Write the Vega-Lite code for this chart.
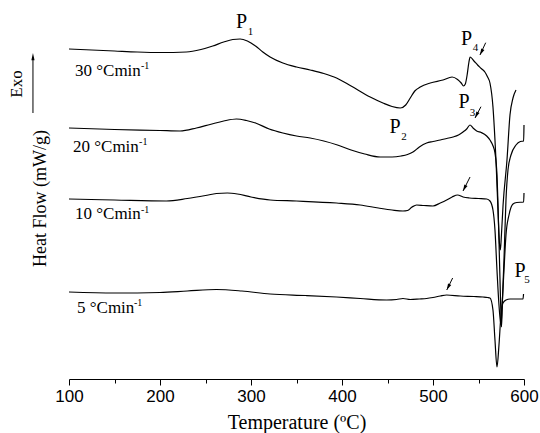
{
  "$schema": "https://vega.github.io/schema/vega-lite/v6.json",
  "width": 455,
  "height": 359,
  "autosize": {"type": "none"},
  "padding": {"left": 69, "top": 20, "right": 16, "bottom": 54},
  "background": "white",
  "config": {"view": {"stroke": null}},
  "datasets": {
    "curves": [
      {"rate": "30", "T": 100, "hf": 330}, {"rate": "30", "T": 125, "hf": 329}, {"rate": "30", "T": 150, "hf": 328}, {"rate": "30", "T": 175, "hf": 327}, {"rate": "30", "T": 200, "hf": 326.5}, {"rate": "30", "T": 229, "hf": 327}, {"rate": "30", "T": 245, "hf": 329.5}, {"rate": "30", "T": 258, "hf": 333}, {"rate": "30", "T": 270, "hf": 337}, {"rate": "30", "T": 280, "hf": 339.5}, {"rate": "30", "T": 288, "hf": 340}, {"rate": "30", "T": 296, "hf": 338}, {"rate": "30", "T": 305, "hf": 333}, {"rate": "30", "T": 313, "hf": 327}, {"rate": "30", "T": 321, "hf": 322}, {"rate": "30", "T": 335, "hf": 316}, {"rate": "30", "T": 350, "hf": 312}, {"rate": "30", "T": 365, "hf": 309}, {"rate": "30", "T": 380, "hf": 305.5}, {"rate": "30", "T": 394, "hf": 301}, {"rate": "30", "T": 410, "hf": 293}, {"rate": "30", "T": 431, "hf": 282}, {"rate": "30", "T": 445, "hf": 276}, {"rate": "30", "T": 455, "hf": 272.5}, {"rate": "30", "T": 464, "hf": 271}, {"rate": "30", "T": 470, "hf": 274}, {"rate": "30", "T": 475, "hf": 281}, {"rate": "30", "T": 480, "hf": 288}, {"rate": "30", "T": 486, "hf": 292}, {"rate": "30", "T": 497, "hf": 296}, {"rate": "30", "T": 511, "hf": 299}, {"rate": "30", "T": 521, "hf": 302}, {"rate": "30", "T": 527, "hf": 299.5}, {"rate": "30", "T": 531, "hf": 296}, {"rate": "30", "T": 533.5, "hf": 293}, {"rate": "30", "T": 535.5, "hf": 295}, {"rate": "30", "T": 537.5, "hf": 304}, {"rate": "30", "T": 539.5, "hf": 317}, {"rate": "30", "T": 540.8, "hf": 322}, {"rate": "30", "T": 545, "hf": 318}, {"rate": "30", "T": 549, "hf": 314}, {"rate": "30", "T": 553, "hf": 310.5}, {"rate": "30", "T": 557, "hf": 307}, {"rate": "30", "T": 560, "hf": 302}, {"rate": "30", "T": 562.6, "hf": 296}, {"rate": "30", "T": 565.9, "hf": 272}, {"rate": "30", "T": 568.1, "hf": 239}, {"rate": "30", "T": 569.2, "hf": 219}, {"rate": "30", "T": 571.4, "hf": 169}, {"rate": "30", "T": 573, "hf": 136}, {"rate": "30", "T": 574, "hf": 129}, {"rate": "30", "T": 575.2, "hf": 144}, {"rate": "30", "T": 577, "hf": 174}, {"rate": "30", "T": 581.3, "hf": 219}, {"rate": "30", "T": 584.6, "hf": 264}, {"rate": "30", "T": 587.9, "hf": 281}, {"rate": "30", "T": 591.2, "hf": 289},
      {"rate": "20", "T": 100, "hf": 251}, {"rate": "20", "T": 150, "hf": 249.5}, {"rate": "20", "T": 200, "hf": 248.5}, {"rate": "20", "T": 222, "hf": 248}, {"rate": "20", "T": 240, "hf": 251}, {"rate": "20", "T": 255, "hf": 254.5}, {"rate": "20", "T": 270, "hf": 258}, {"rate": "20", "T": 284, "hf": 260}, {"rate": "20", "T": 295, "hf": 258.5}, {"rate": "20", "T": 305, "hf": 256}, {"rate": "20", "T": 320, "hf": 250}, {"rate": "20", "T": 335, "hf": 246}, {"rate": "20", "T": 350, "hf": 243}, {"rate": "20", "T": 365, "hf": 241}, {"rate": "20", "T": 380, "hf": 238}, {"rate": "20", "T": 395, "hf": 234}, {"rate": "20", "T": 410, "hf": 229}, {"rate": "20", "T": 425, "hf": 225}, {"rate": "20", "T": 442, "hf": 222}, {"rate": "20", "T": 455, "hf": 222}, {"rate": "20", "T": 465, "hf": 223}, {"rate": "20", "T": 472, "hf": 224.5}, {"rate": "20", "T": 478, "hf": 227}, {"rate": "20", "T": 485, "hf": 232}, {"rate": "20", "T": 493, "hf": 236}, {"rate": "20", "T": 500, "hf": 237.5}, {"rate": "20", "T": 508, "hf": 239}, {"rate": "20", "T": 515, "hf": 240.5}, {"rate": "20", "T": 522, "hf": 242}, {"rate": "20", "T": 528, "hf": 244}, {"rate": "20", "T": 533, "hf": 247}, {"rate": "20", "T": 537, "hf": 250}, {"rate": "20", "T": 540.6, "hf": 254}, {"rate": "20", "T": 544, "hf": 251}, {"rate": "20", "T": 548, "hf": 248}, {"rate": "20", "T": 553, "hf": 246.5}, {"rate": "20", "T": 559, "hf": 243}, {"rate": "20", "T": 562.6, "hf": 239}, {"rate": "20", "T": 566, "hf": 233}, {"rate": "20", "T": 568.1, "hf": 226}, {"rate": "20", "T": 570.3, "hf": 204}, {"rate": "20", "T": 572.5, "hf": 139}, {"rate": "20", "T": 574.2, "hf": 79}, {"rate": "20", "T": 575.3, "hf": 52}, {"rate": "20", "T": 576.3, "hf": 79}, {"rate": "20", "T": 578, "hf": 119}, {"rate": "20", "T": 580.2, "hf": 179}, {"rate": "20", "T": 582.4, "hf": 209}, {"rate": "20", "T": 585.7, "hf": 224}, {"rate": "20", "T": 591.2, "hf": 234}, {"rate": "20", "T": 596, "hf": 237.5}, {"rate": "20", "T": 599.6, "hf": 238}, {"rate": "20", "T": 600, "hf": 254},
      {"rate": "10", "T": 100, "hf": 180}, {"rate": "10", "T": 150, "hf": 179}, {"rate": "10", "T": 207, "hf": 178}, {"rate": "10", "T": 230, "hf": 180.5}, {"rate": "10", "T": 250, "hf": 183.5}, {"rate": "10", "T": 262, "hf": 185.5}, {"rate": "10", "T": 274, "hf": 186}, {"rate": "10", "T": 285, "hf": 185}, {"rate": "10", "T": 300, "hf": 182}, {"rate": "10", "T": 321, "hf": 179}, {"rate": "10", "T": 350, "hf": 178}, {"rate": "10", "T": 394, "hf": 176}, {"rate": "10", "T": 420, "hf": 174}, {"rate": "10", "T": 440, "hf": 171}, {"rate": "10", "T": 455, "hf": 169}, {"rate": "10", "T": 467, "hf": 168}, {"rate": "10", "T": 472, "hf": 168.5}, {"rate": "10", "T": 477, "hf": 172}, {"rate": "10", "T": 482, "hf": 174}, {"rate": "10", "T": 490, "hf": 173.5}, {"rate": "10", "T": 500, "hf": 173}, {"rate": "10", "T": 508, "hf": 176}, {"rate": "10", "T": 515, "hf": 179}, {"rate": "10", "T": 521, "hf": 182}, {"rate": "10", "T": 527, "hf": 184}, {"rate": "10", "T": 533, "hf": 182}, {"rate": "10", "T": 540, "hf": 181}, {"rate": "10", "T": 550, "hf": 180.5}, {"rate": "10", "T": 559, "hf": 180}, {"rate": "10", "T": 562.6, "hf": 178}, {"rate": "10", "T": 565.9, "hf": 169}, {"rate": "10", "T": 568.1, "hf": 149}, {"rate": "10", "T": 570.3, "hf": 109}, {"rate": "10", "T": 572.5, "hf": 74}, {"rate": "10", "T": 574.7, "hf": 54}, {"rate": "10", "T": 576, "hf": 74}, {"rate": "10", "T": 578, "hf": 109}, {"rate": "10", "T": 580.2, "hf": 144}, {"rate": "10", "T": 583.5, "hf": 164}, {"rate": "10", "T": 587.9, "hf": 175}, {"rate": "10", "T": 592, "hf": 176.5}, {"rate": "10", "T": 599.6, "hf": 177}, {"rate": "10", "T": 600, "hf": 186},
      {"rate": "5", "T": 100, "hf": 87}, {"rate": "5", "T": 150, "hf": 86}, {"rate": "5", "T": 200, "hf": 86.5}, {"rate": "5", "T": 230, "hf": 88}, {"rate": "5", "T": 262, "hf": 89.5}, {"rate": "5", "T": 290, "hf": 88}, {"rate": "5", "T": 321, "hf": 85}, {"rate": "5", "T": 360, "hf": 83.5}, {"rate": "5", "T": 394, "hf": 82}, {"rate": "5", "T": 420, "hf": 80.5}, {"rate": "5", "T": 449, "hf": 79}, {"rate": "5", "T": 460, "hf": 79.5}, {"rate": "5", "T": 467, "hf": 80.5}, {"rate": "5", "T": 475, "hf": 79.5}, {"rate": "5", "T": 485, "hf": 80}, {"rate": "5", "T": 493, "hf": 80.5}, {"rate": "5", "T": 500, "hf": 81.5}, {"rate": "5", "T": 508, "hf": 83}, {"rate": "5", "T": 515, "hf": 84}, {"rate": "5", "T": 530, "hf": 83}, {"rate": "5", "T": 545, "hf": 82.5}, {"rate": "5", "T": 555, "hf": 82}, {"rate": "5", "T": 560, "hf": 81.5}, {"rate": "5", "T": 562.6, "hf": 81}, {"rate": "5", "T": 565.9, "hf": 69}, {"rate": "5", "T": 568.1, "hf": 39}, {"rate": "5", "T": 570.3, "hf": 12}, {"rate": "5", "T": 572.5, "hf": 34}, {"rate": "5", "T": 574.7, "hf": 64}, {"rate": "5", "T": 576.9, "hf": 76}, {"rate": "5", "T": 580.2, "hf": 79}, {"rate": "5", "T": 584.6, "hf": 80}, {"rate": "5", "T": 598.9, "hf": 80}, {"rate": "5", "T": 599.5, "hf": 85}
    ],
    "plabels": [
      {"label": "P", "T": 289.6, "hf": 351}, {"label": "P", "T": 458.2, "hf": 246}, {"label": "P", "T": 534.1, "hf": 271}, {"label": "P", "T": 536.8, "hf": 334}, {"label": "P", "T": 595.6, "hf": 102}
    ],
    "psubs": [
      {"label": "1", "T": 299.5, "hf": 344}, {"label": "2", "T": 468.1, "hf": 239}, {"label": "3", "T": 543.4, "hf": 263}, {"label": "4", "T": 546.7, "hf": 328}, {"label": "5", "T": 603.3, "hf": 96}
    ],
    "rlabels": [
      {"label": "30 °Cmin", "T": 106.6, "hf": 303}, {"label": "20 °Cmin", "T": 104.4, "hf": 227}, {"label": "10 °Cmin", "T": 106.6, "hf": 160}, {"label": "5 °Cmin", "T": 108.8, "hf": 66}
    ],
    "rsups": [
      {"label": "-1", "T": 179, "hf": 310}, {"label": "-1", "T": 177, "hf": 234}, {"label": "-1", "T": 179, "hf": 166}, {"label": "-1", "T": 171.4, "hf": 73}
    ],
    "arrows": [
      {"T": 557.9, "hf": 336.3, "T2": 551.6, "hf2": 324}, {"T": 552.7, "hf": 272.3, "T2": 546.2, "hf2": 261}, {"T": 540.7, "hf": 202, "T2": 533.0, "hf2": 188}, {"T": 521.6, "hf": 101, "T2": 515.1, "hf2": 89}, {"T": 60.4, "hf": 266, "T2": 60.4, "hf2": 322}
    ],
    "heads": [
      {"T": 551.6, "hf": 324}, {"T": 546.2, "hf": 261}, {"T": 533.0, "hf": 188}, {"T": 515.1, "hf": 89}
    ],
    "exohead": [{"T": 60.4, "hf": 326}],
    "exo": [{"label": "Exo", "T": 43.4, "hf": 295}]
  },
  "encoding": {
    "x": {
      "field": "T", "type": "quantitative",
      "scale": {"domain": [100, 600], "nice": false, "zero": false},
      "axis": {
        "title": "Temperature (ºC)",
        "values": [100, 150, 200, 250, 300, 350, 400, 450, 500, 550, 600],
        "labelExpr": "datum.value % 100 === 0 ? '' + datum.value : ''",
        "tickSize": {"condition": {"test": "datum.value % 100 === 0", "value": 6}, "value": 4},
        "grid": false, "domainColor": "black", "tickColor": "black", "labelColor": "black",
        "labelFont": "Liberation Sans", "labelFontSize": 17, "labelPadding": 3, "labelFlush": false,
        "titleFont": "Liberation Serif", "titleFontSize": 20, "titleFontWeight": "normal", "titleColor": "black", "titlePadding": 8
      }
    },
    "y": {
      "field": "hf", "type": "quantitative",
      "scale": {"domain": [0, 359], "nice": false, "zero": false},
      "axis": {
        "title": "Heat Flow (mW/g)", "domain": false, "ticks": false, "labels": false, "grid": false,
        "titleFont": "Liberation Serif", "titleFontSize": 18, "titleFontWeight": "normal", "titleColor": "black",
        "titleX": -24, "titleY": 178, "titleAngle": 270, "titleBaseline": "alphabetic", "titleAlign": "center"
      }
    }
  },
  "layer": [
    {"data": {"name": "curves"}, "mark": {"type": "line", "color": "black", "strokeWidth": 1.2, "interpolate": "monotone"}, "encoding": {"detail": {"field": "rate"}}},
    {"data": {"name": "arrows"}, "mark": {"type": "rule", "color": "black", "strokeWidth": 1}, "encoding": {"x2": {"field": "T2"}, "y2": {"field": "hf2"}}},
    {"data": {"name": "heads"}, "mark": {"type": "point", "shape": "M0,0L0.45,1.6L-0.45,1.6Z", "size": 64, "filled": true, "color": "black", "opacity": 1, "angle": 207}},
    {"data": {"name": "exohead"}, "mark": {"type": "point", "shape": "M0,0L0.4,1.8L-0.4,1.8Z", "size": 64, "filled": true, "color": "black", "opacity": 1, "angle": 0}},
    {"data": {"name": "plabels"}, "mark": {"type": "text", "font": "Liberation Serif", "fontSize": 20, "align": "center", "baseline": "alphabetic", "color": "black"}, "encoding": {"text": {"field": "label"}}},
    {"data": {"name": "psubs"}, "mark": {"type": "text", "font": "Liberation Serif", "fontSize": 11, "align": "center", "baseline": "alphabetic", "color": "black"}, "encoding": {"text": {"field": "label"}}},
    {"data": {"name": "rlabels"}, "mark": {"type": "text", "font": "Liberation Serif", "fontSize": 17, "align": "left", "baseline": "alphabetic", "color": "black"}, "encoding": {"text": {"field": "label"}}},
    {"data": {"name": "rsups"}, "mark": {"type": "text", "font": "Liberation Serif", "fontSize": 10, "align": "left", "baseline": "alphabetic", "color": "black"}, "encoding": {"text": {"field": "label"}}},
    {"data": {"name": "exo"}, "mark": {"type": "text", "font": "Liberation Serif", "fontSize": 17, "align": "center", "baseline": "middle", "angle": 270, "color": "black"}, "encoding": {"text": {"field": "label"}}}
  ]
}
